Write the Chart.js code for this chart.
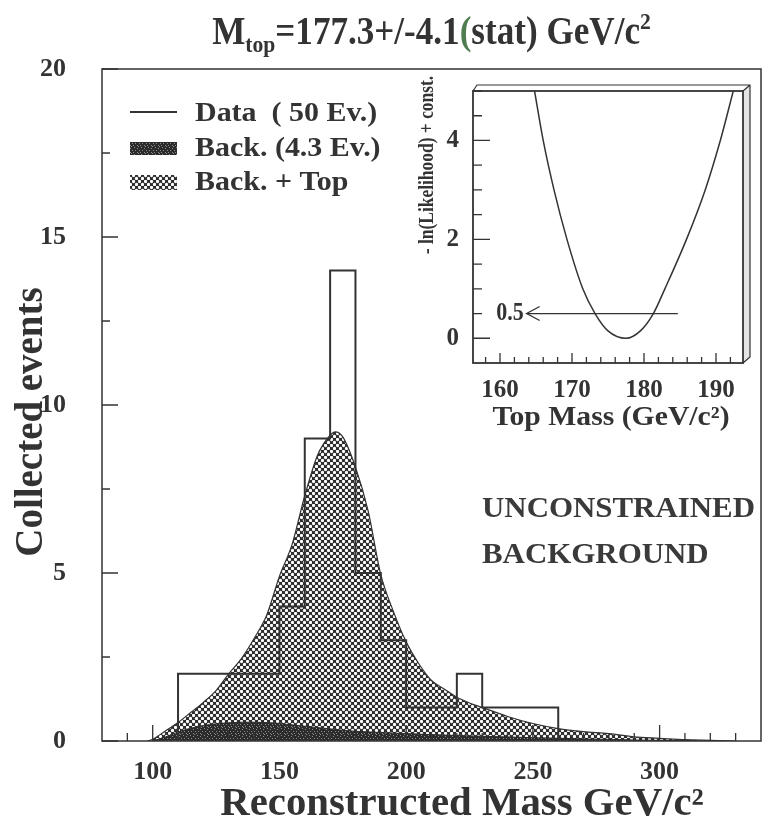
<!DOCTYPE html>
<html>
<head>
<meta charset="utf-8">
<script src="https://cdn.jsdelivr.net/npm/chart.js@4.4.1/dist/chart.umd.min.js"></script>
<style>
  html, body { margin: 0; padding: 0; background: #fff; }
  #wrap { position: relative; width: 762px; height: 820px; }
  #main { position: absolute; left: 0; top: 0; }
  #inset { position: absolute; left: 400px; top: 70px; }
</style>
</head>
<body>
<div id="wrap">
  <canvas id="main" width="762" height="820"></canvas>
  <canvas id="inset" width="360" height="370"></canvas>
</div>
<script>
// ---- data ----
const binLow = [110, 120, 130, 140, 150, 160, 170, 180, 190, 200, 210, 220, 230, 240, 250];
const dataCounts = [2, 2, 2, 2, 4, 9, 14, 5, 3, 1, 1, 2, 1, 1, 1];
const binHigh = 260;

const fitMass = [98, 100, 105, 110, 115, 120, 125, 130, 135, 140, 145, 150, 155, 160, 165, 170, 172, 175,
  180, 185, 190, 195, 200, 205, 210, 215, 220, 225, 230, 240, 250, 260, 270, 280, 290, 300, 310, 320, 330];
const fitBackTop = [0, 0.05, 0.3, 0.55, 0.85, 1.15, 1.5, 2.0, 2.45, 3.05, 3.75, 4.9, 5.85, 7.3, 8.5, 9.1, 9.2, 9.05,
  8.15, 6.85, 4.95, 3.85, 2.95, 2.3, 1.8, 1.55, 1.3, 1.13, 1.0, 0.73, 0.52, 0.37, 0.28, 0.22, 0.12, 0.08, 0.04, 0.02, 0];

const bgMass = [100, 105, 110, 115, 120, 125, 130, 135, 140, 145, 150, 155, 160, 165, 170, 175, 180, 190,
  200, 210, 220, 230, 240, 250, 260, 270, 280, 290, 300, 315];
const bgVals = [0, 0.12, 0.27, 0.38, 0.46, 0.51, 0.54, 0.56, 0.56, 0.55, 0.52, 0.48, 0.44, 0.4, 0.36, 0.32, 0.29, 0.25,
  0.22, 0.19, 0.16, 0.14, 0.12, 0.1, 0.08, 0.06, 0.05, 0.03, 0.02, 0];

const xTicks = [100, 150, 200, 250, 300];
const xMinor = [90, 110, 120, 130, 140, 160, 170, 180, 190, 210, 220, 230, 240, 260, 270, 280, 290, 310, 320, 330];
const yTicks = [0, 5, 10, 15, 20];
const yMinor = [2.5, 7.5, 12.5, 17.5];

// inset: likelihood scan
const scanMass = [164.8, 166.0, 167.5, 169.3, 171.5, 173.2, 175.0, 177.5, 179.5, 181.3, 182.9, 185.9, 188.5, 190.6, 192.4];
const scanNll = [5.0, 4.0, 3.0, 2.0, 1.0, 0.5, 0.15, 0.0, 0.15, 0.5, 1.0, 2.0, 3.0, 4.0, 5.0];
const halfMass = [163.7, 184.7];
const halfLevel = [0.5, 0.5];
const insetXTicks = [160, 170, 180, 190];
const insetXMinor = [158, 162, 164, 166, 168, 172, 174, 176, 178, 182, 184, 186, 188, 192];
const insetYTicks = [0, 2, 4];
const insetYMinor = [0.5, 1, 1.5, 2.5, 3, 3.5, 4.5, 5];

const INK = '#333';
const SERIF = '"Liberation Serif", "Times New Roman", serif';

// ---- fill textures ----
function hatchPattern(ctx) {
  const c = document.createElement('canvas');
  c.width = 6; c.height = 6;
  const g = c.getContext('2d');
  g.fillStyle = '#2c2c2c';
  g.fillRect(0, 0, 6, 6);
  g.fillStyle = '#fff';
  [[1.5, 1.5], [4.5, 4.5]].forEach(([x, y]) => {
    g.beginPath(); g.arc(x, y, 1.65, 0, Math.PI * 2); g.fill();
  });
  return ctx.createPattern(c, 'repeat');
}
function stipplePattern(ctx) {
  const c = document.createElement('canvas');
  c.width = 7; c.height = 7;
  const g = c.getContext('2d');
  g.fillStyle = '#2b2b2b';
  g.fillRect(0, 0, 7, 7);
  g.fillStyle = '#8c8c8c';
  [[1, 0], [4, 1], [6, 3], [2, 3], [0, 5], [4, 5], [5, 6]].forEach(([x, y]) => g.fillRect(x, y, 1, 1));
  return ctx.createPattern(c, 'repeat');
}

function txt(ctx, s, x, y, font, o) {
  o = o || {};
  ctx.save();
  ctx.font = font;
  ctx.fillStyle = o.color || INK;
  ctx.textAlign = o.align || 'left';
  ctx.textBaseline = o.base || 'alphabetic';
  ctx.translate(x, y);
  if (o.rot) ctx.rotate(o.rot);
  ctx.scale(o.sx || 1, 1);
  ctx.fillText(s, 0, 0);
  ctx.restore();
}

function drawTicks(ctx, sx, sy, a, xMaj, xMin, yMaj, yMin, lens) {
  ctx.save();
  ctx.strokeStyle = INK;
  ctx.lineWidth = 1.3;
  ctx.beginPath();
  const tick = (v, len, horiz) => {
    if (horiz) {
      const px = sx.getPixelForValue(v);
      ctx.moveTo(px, a.bottom); ctx.lineTo(px, a.bottom - len);
    } else {
      const py = sy.getPixelForValue(v);
      ctx.moveTo(a.left, py); ctx.lineTo(a.left + len, py);
    }
  };
  xMaj.forEach(v => tick(v, lens[0], true));
  xMin.forEach(v => tick(v, lens[1], true));
  yMaj.forEach(v => tick(v, lens[2], false));
  yMin.forEach(v => tick(v, lens[3], false));
  ctx.stroke();
  ctx.restore();
}

// ---- main chart ----
const mainCanvas = document.getElementById('main');
const mctx = mainCanvas.getContext('2d');
const hatch = hatchPattern(mctx);
const stipple = stipplePattern(mctx);

const histPoints = [{ x: binLow[0], y: 0 }]
  .concat(binLow.map((x, i) => ({ x, y: dataCounts[i] })))
  .concat([{ x: binHigh, y: 0 }]);

const mainDecor = {
  id: 'mainDecor',
  afterDraw(chart) {
    const ctx = chart.ctx;
    const a = chart.chartArea;
    const sx = chart.scales.x, sy = chart.scales.y;

    ctx.save();
    ctx.strokeStyle = INK;
    ctx.lineWidth = 1.5;
    ctx.strokeRect(a.left, a.top, a.right - a.left, a.bottom - a.top);
    ctx.restore();
    drawTicks(ctx, sx, sy, a, xTicks, xMinor, yTicks, yMinor, [16, 8, 16, 8]);

    // title with sub/superscript
    const big = 'bold 39px ' + SERIF, small = 'bold 24px ' + SERIF;
    const tsx = 0.9;
    const parts = [
      ['M', big, 0, INK], ['top', small, 8, INK], ['=177.3+/-4.1', big, 0, INK],
      ['(', big, 0, '#4f7d4f'], ['stat) GeV/c', big, 0, INK], ['2', small, -15, INK]
    ];
    let total = 0;
    parts.forEach(p => { ctx.font = p[1]; total += ctx.measureText(p[0]).width * tsx; });
    let cx = (a.left + a.right) / 2 - total / 2;
    parts.forEach(p => {
      txt(ctx, p[0], cx, 44 + p[2], p[1], { color: p[3], sx: tsx });
      ctx.font = p[1];
      cx += ctx.measureText(p[0]).width * tsx;
    });

    // axis titles
    txt(ctx, 'Reconstructed Mass GeV/c²', 462, 815, 'bold 40px ' + SERIF, { align: 'center', sx: 1.02 });
    txt(ctx, 'Collected events', 31, 422, 'bold 41px ' + SERIF,
      { align: 'center', base: 'middle', rot: -Math.PI / 2, sx: 0.95 });

    // legend
    const lf = 'bold 28px ' + SERIF;
    ctx.save();
    ctx.strokeStyle = INK; ctx.lineWidth = 2;
    ctx.beginPath(); ctx.moveTo(130, 112); ctx.lineTo(177, 112); ctx.stroke();
    ctx.fillStyle = stipple; ctx.fillRect(130, 142, 47, 13);
    ctx.fillStyle = hatch; ctx.fillRect(130, 175, 47, 15);
    ctx.restore();
    txt(ctx, 'Data  ( 50 Ev.)', 195, 121, lf, { sx: 1.07 });
    txt(ctx, 'Back. (4.3 Ev.)', 195, 156, lf, { sx: 1.07 });
    txt(ctx, 'Back. + Top', 195, 190, lf, { sx: 1.07 });

    // annotation
    txt(ctx, 'UNCONSTRAINED', 482, 517, 'bold 30px ' + SERIF, { sx: 1.03, color: '#3a3a3a' });
    txt(ctx, 'BACKGROUND', 482, 563, 'bold 30px ' + SERIF, { sx: 1.03, color: '#3a3a3a' });
  }
};

new Chart(mctx, {
  type: 'line',
  data: {
    datasets: [
      {
        label: 'Data', data: histPoints, stepped: true,
        borderColor: INK, borderWidth: 2, pointRadius: 0, fill: false, order: 1
      },
      {
        label: 'Back.', data: bgMass.map((x, i) => ({ x, y: bgVals[i] })),
        borderColor: '#2b2b2b', borderWidth: 1, backgroundColor: stipple, fill: 'origin',
        pointRadius: 0, cubicInterpolationMode: 'monotone', order: 2
      },
      {
        label: 'Back. + Top', data: fitMass.map((x, i) => ({ x, y: fitBackTop[i] })),
        borderColor: INK, borderWidth: 1.2, backgroundColor: hatch, fill: 'origin',
        pointRadius: 0, cubicInterpolationMode: 'monotone', order: 3
      }
    ]
  },
  options: {
    responsive: false,
    animation: false,
    events: [],
    layout: { padding: { left: 0, right: 1, top: 69, bottom: 0 } },
    plugins: { legend: { display: false }, tooltip: { enabled: false } },
    scales: {
      x: {
        type: 'linear', min: 80, max: 340,
        grid: { display: false }, border: { display: false },
        afterBuildTicks: (s) => { s.ticks = xTicks.map(v => ({ value: v })); },
        afterFit: (s) => { s.height = 79; },
        ticks: { color: INK, padding: 8, maxRotation: 0, font: { family: SERIF, weight: 'bold', size: 26 } }
      },
      y: {
        type: 'linear', min: 0, max: 20,
        grid: { display: false }, border: { display: false },
        afterBuildTicks: (s) => { s.ticks = yTicks.map(v => ({ value: v })); },
        afterFit: (s) => { s.width = 102; },
        ticks: { color: INK, padding: 28, font: { family: SERIF, weight: 'bold', size: 26 } }
      }
    }
  },
  plugins: [mainDecor]
});

// ---- inset chart ----
const ictx = document.getElementById('inset').getContext('2d');

const insetDecor = {
  id: 'insetDecor',
  beforeDraw(chart) {
    const ctx = chart.ctx, a = chart.chartArea;
    ctx.save();
    ctx.fillStyle = '#fff';
    ctx.fillRect(a.left, a.top - 6, a.right - a.left + 7, a.bottom - a.top + 6);
    ctx.fillStyle = '#e4e4e4';
    ctx.beginPath();
    ctx.moveTo(a.right, a.top); ctx.lineTo(a.right + 7, a.top - 6);
    ctx.lineTo(a.right + 7, a.bottom - 6); ctx.lineTo(a.right, a.bottom);
    ctx.closePath(); ctx.fill();
    ctx.restore();
  },
  afterDraw(chart) {
    const ctx = chart.ctx, a = chart.chartArea;
    const sx = chart.scales.x, sy = chart.scales.y;
    ctx.save();
    ctx.strokeStyle = INK;
    ctx.lineWidth = 1.8;
    ctx.strokeRect(a.left, a.top, a.right - a.left, a.bottom - a.top);
    ctx.lineWidth = 1.2;
    ctx.beginPath();
    ctx.moveTo(a.left, a.top); ctx.lineTo(a.left + 4, a.top - 6);
    ctx.lineTo(a.right + 7, a.top - 6); ctx.lineTo(a.right + 7, a.bottom - 6);
    ctx.lineTo(a.right, a.bottom);
    ctx.moveTo(a.right, a.top); ctx.lineTo(a.right + 7, a.top - 6);
    ctx.stroke();
    ctx.restore();
    drawTicks(ctx, sx, sy, a, insetXTicks, insetXMinor, insetYTicks, insetYMinor, [10, 6, 17, 9]);

    // arrow head at the left end of the 0.5 line
    const tx = sx.getPixelForValue(halfMass[0]), ty = sy.getPixelForValue(halfLevel[0]);
    ctx.save();
    ctx.strokeStyle = INK; ctx.lineWidth = 1.3;
    ctx.beginPath();
    ctx.moveTo(tx + 13, ty - 7); ctx.lineTo(tx, ty); ctx.lineTo(tx + 13, ty + 7);
    ctx.stroke();
    ctx.restore();
    txt(ctx, '0.5', tx - 3, ty, 'bold 25px ' + SERIF, { align: 'right', base: 'middle', sx: 0.88 });

    txt(ctx, '- ln(Likelihood) + const.', 28, 95, 'bold 21px ' + SERIF,
      { align: 'center', base: 'middle', rot: -Math.PI / 2, sx: 0.83 });
    txt(ctx, 'Top Mass (GeV/c²)', 211, 355, 'bold 27px ' + SERIF, { align: 'center', sx: 1.1 });
  }
};

new Chart(ictx, {
  type: 'line',
  data: {
    datasets: [
      {
        label: 'scan', data: scanMass.map((x, i) => ({ x, y: scanNll[i] })),
        borderColor: INK, borderWidth: 1.5, pointRadius: 0, fill: false,
        cubicInterpolationMode: 'monotone'
      },
      {
        label: 'half', data: halfMass.map((x, i) => ({ x, y: halfLevel[i] })),
        borderColor: INK, borderWidth: 1.3, pointRadius: 0, fill: false
      }
    ]
  },
  options: {
    responsive: false,
    animation: false,
    events: [],
    layout: { padding: { left: 0, right: 17, top: 19, bottom: 0 } },
    plugins: { legend: { display: false }, tooltip: { enabled: false } },
    scales: {
      x: {
        type: 'linear', min: 156.25, max: 193.75,
        grid: { display: false }, border: { display: false },
        afterBuildTicks: (s) => { s.ticks = insetXTicks.map(v => ({ value: v })); },
        afterFit: (s) => { s.height = 77; },
        ticks: { color: INK, padding: 5, maxRotation: 0, font: { family: SERIF, weight: 'bold', size: 25 } }
      },
      y: {
        type: 'linear', min: -0.5, max: 5,
        grid: { display: false }, border: { display: false },
        afterBuildTicks: (s) => { s.ticks = insetYTicks.map(v => ({ value: v })); },
        afterFit: (s) => { s.width = 73; },
        ticks: { color: INK, padding: 6, font: { family: SERIF, weight: 'bold', size: 25 } }
      }
    }
  },
  plugins: [insetDecor]
});
</script>
</body>
</html>
